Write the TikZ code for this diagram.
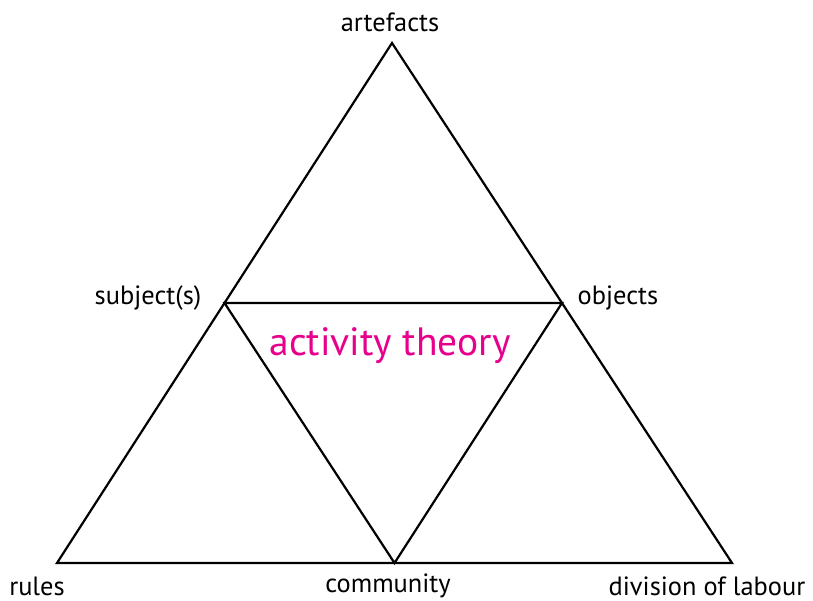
\documentclass[tikz,border=0pt]{standalone}
\usepackage{fontspec}
\setmainfont{PT Sans}
\definecolor{atmag}{RGB}{230,0,140}
\begin{document}
\begin{tikzpicture}[x=1pt,y=-1pt,
  edge/.style={line width=2.2pt,line join=miter},
  lbl/.style={font=\fontsize{26.4}{30}\selectfont,inner sep=0pt},
  title/.style={font=\fontsize{39.5}{46}\selectfont,text=atmag,inner sep=0pt}]
\useasboundingbox (0,0) rectangle (813,601);
\coordinate (A) at (392,43);
\coordinate (L) at (57,563);
\coordinate (R) at (732,563);
\coordinate (S) at (224.5,303);
\coordinate (O) at (562,303);
\coordinate (C) at (394.5,563);
\draw[edge] (A) -- (L) -- (R) -- cycle;
\draw[edge] (S) -- (O) -- (C) -- cycle;
\node[lbl] (artefacts) at (390,22) {artefacts};
\node[lbl] (subject) at (148,298) {subject(s)};
\node[lbl] (objects) at (618,298) {objects};
\node[lbl] (rules) at (37,586) {rules};
\node[lbl] (community) at (388,586) {community};
\node[lbl] (division) at (707,586) {division of labour};
\node[title] (at) at (390,346) {activity theory};
\end{tikzpicture}
\end{document}
